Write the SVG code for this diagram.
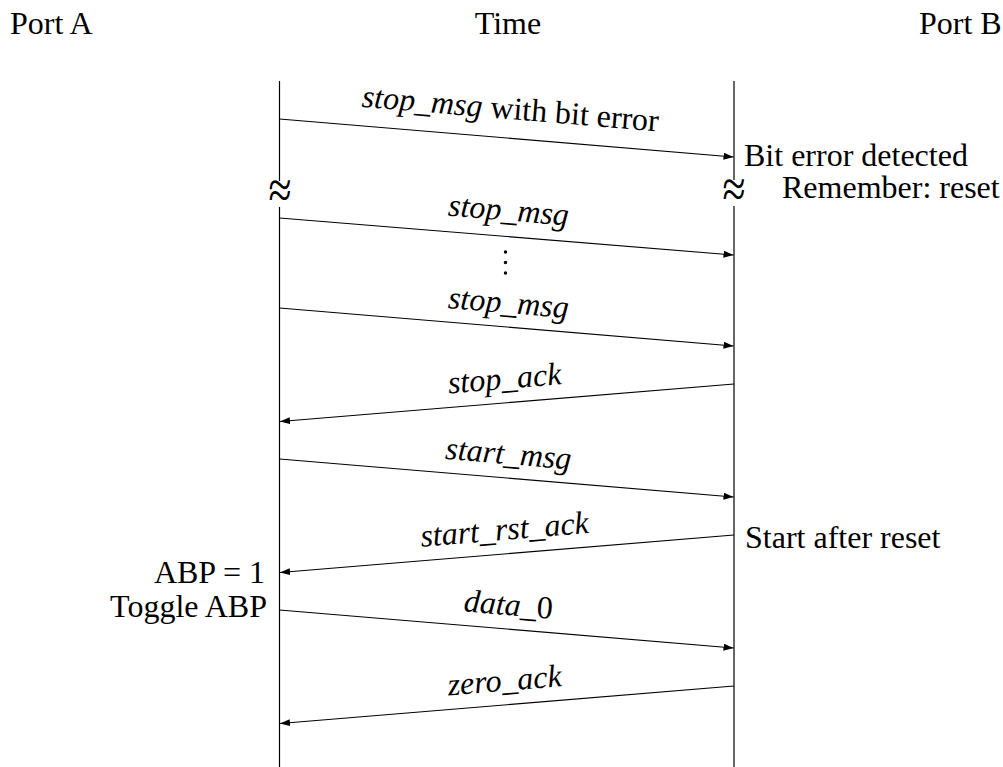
<svg xmlns="http://www.w3.org/2000/svg" width="1003" height="767" viewBox="0 0 1003 767">
<style>
text{font-family:"Liberation Serif","Times New Roman",serif;font-size:32px;fill:#000}
.it{font-style:italic}
.lbl{text-anchor:middle}
.brk{font-size:40px;text-anchor:middle}
.life{stroke:#000;stroke-width:1.2;fill:none}
.msg{stroke:#000;stroke-width:1.1;fill:none;marker-end:url(#ah)}
</style>
<defs>
<marker id="ah" markerUnits="userSpaceOnUse" markerWidth="11" markerHeight="8" refX="10" refY="3.5" orient="auto">
<path d="M0,0 L10,3.5 L0,7 z" fill="#000"/>
</marker>
</defs>
<rect width="1003" height="767" fill="#fff"/>
<g id="headers">
<text x="10" y="34">Port A</text>
<text x="508" y="34" text-anchor="middle">Time</text>
<text x="919" y="34">Port B</text>
</g>
<g id="lifelines">
<line class="life" x1="279.5" y1="81" x2="279.5" y2="767"/>
<line class="life" x1="734" y1="81" x2="734" y2="767"/>
</g>
<g id="breaks">
<rect x="266" y="181" width="28" height="26" fill="#fff"/>
<rect x="720" y="180" width="28" height="26" fill="#fff"/>
<text class="brk" transform="translate(280,194) scale(1.05,1.35)" y="10">≈</text>
<text class="brk" transform="translate(734,193) scale(1.05,1.35)" y="10">≈</text>
</g>
<g id="connectors">
<line class="msg" x1="279.5" y1="119" x2="733.5" y2="157"/>
<line class="msg" x1="279.5" y1="218" x2="733.5" y2="255"/>
<line class="msg" x1="279.5" y1="308" x2="733.5" y2="346"/>
<line class="msg" x1="734" y1="384" x2="280" y2="421.5"/>
<line class="msg" x1="279.5" y1="459" x2="733.5" y2="497"/>
<line class="msg" x1="734" y1="535" x2="280" y2="572.5"/>
<line class="msg" x1="279.5" y1="610" x2="733.5" y2="648"/>
<line class="msg" x1="734" y1="686" x2="280" y2="723.5"/>
</g>
<g id="labels">
<text class="lbl" transform="translate(508,138) rotate(4.75)" y="-19"><tspan class="it">stop_msg</tspan> with bit error</text>
<text class="lbl it" transform="translate(506.5,236.5) rotate(4.7)" y="-16">stop_msg</text>
<text class="lbl it" transform="translate(506.5,327) rotate(4.75)" y="-14">stop_msg</text>
<text class="lbl it" transform="translate(506.5,402.75) rotate(-4.7)" y="-14">stop_ack</text>
<text class="lbl it" transform="translate(506.5,478) rotate(4.75)" y="-14">start_msg</text>
<text class="lbl it" transform="translate(506.5,553.75) rotate(-4.7)" y="-14">start_rst_ack</text>
<text class="lbl" transform="translate(506.5,629) rotate(4.75)" y="-14"><tspan class="it">data_</tspan>0</text>
<text class="lbl it" transform="translate(506.5,704.75) rotate(-4.7)" y="-14">zero_ack</text>
</g>
<g id="dots" fill="#000">
<circle cx="505.5" cy="252" r="1.7"/>
<circle cx="505.5" cy="262.5" r="1.7"/>
<circle cx="505.5" cy="273" r="1.7"/>
</g>
<g id="notes">
<text x="744" y="166">Bit error detected</text>
<text x="782" y="198">Remember: reset</text>
<text x="745" y="548">Start after reset</text>
<text x="265" y="583" text-anchor="end">ABP = 1</text>
<text x="267" y="617" text-anchor="end">Toggle ABP</text>
</g>
</svg>
